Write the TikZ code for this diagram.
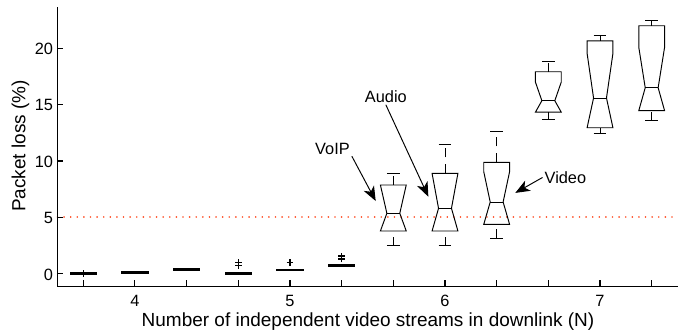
\documentclass[tikz,border=0pt]{standalone}
\usepackage{fontspec}
\setmainfont{Liberation Sans}
\usepackage{tikz}
\usetikzlibrary{arrows.meta}
\definecolor{limitred}{RGB}{255,80,40}
\tikzset{
  boxln/.style={line width=0.55pt},
  flatbox/.style={line width=0.9pt},
  outl/.style={line width=0.75pt},
  whisk/.style={line width=0.55pt,dash pattern=on 0.18cm off 0.14cm},
  ticklbl/.style={font=\fontsize{9.3}{11}\selectfont,inner sep=0pt},
  axlbl/.style={font=\fontsize{10.8}{13}\selectfont,inner sep=0pt},
  annot/.style={font=\fontsize{9.3}{11}\selectfont,inner sep=1pt}
}

\begin{document}
\begin{tikzpicture}[line cap=butt,line join=miter,>={Stealth[length=2.9mm,width=2.3mm,inset=0.8mm]},x=1.0334cm,y=0.2254cm]
\useasboundingbox (-0.612,-5.084) rectangle (12.606,24.285);

% 5% limit
\draw [limitred,line width=1pt,line cap=round,dash pattern=on 0.01pt off 3.75pt] (0.5,5.)-- (12.5,5.);

% axes
\draw [line width=0.6pt] (0.5,23.65)-- (0.5,-1.1)-- (12.5,-1.1);
\draw [line width=0.6pt] (0.5,0.)-- (0.616,0.);
\draw [line width=0.6pt] (0.5,5.)-- (0.616,5.);
\draw [line width=0.6pt] (0.5,10.)-- (0.616,10.);
\draw [line width=0.6pt] (0.5,15.)-- (0.616,15.);
\draw [line width=0.6pt] (0.5,20.)-- (0.616,20.);
\draw [line width=0.6pt] (1.,-1.1)-- (1.,-0.57);
\draw [line width=0.6pt] (2.,-1.1)-- (2.,-0.57);
\draw [line width=0.6pt] (3.,-1.1)-- (3.,-0.57);
\draw [line width=0.6pt] (4.,-1.1)-- (4.,-0.57);
\draw [line width=0.6pt] (5.,-1.1)-- (5.,-0.57);
\draw [line width=0.6pt] (6.,-1.1)-- (6.,-0.57);
\draw [line width=0.6pt] (7.,-1.1)-- (7.,-0.57);
\draw [line width=0.6pt] (8.,-1.1)-- (8.,-0.57);
\draw [line width=0.6pt] (9.,-1.1)-- (9.,-0.57);
\draw [line width=0.6pt] (10.,-1.1)-- (10.,-0.57);
\draw [line width=0.6pt] (11.,-1.1)-- (11.,-0.57);
\draw [line width=0.6pt] (12.,-1.1)-- (12.,-0.57);

\node[ticklbl,anchor=base east] (y0) at (0.42,-0.56) {0};
\node[ticklbl,anchor=base east] (y5) at (0.42,4.44) {5};
\node[ticklbl,anchor=base east] (y10) at (0.42,9.44) {10};
\node[ticklbl,anchor=base east] (y15) at (0.42,14.44) {15};
\node[ticklbl,anchor=base east] (y20) at (0.42,19.44) {20};
\node[ticklbl,anchor=base] (x4) at (2.,-2.87) {4};
\node[ticklbl,anchor=base] (x5) at (5.,-2.87) {5};
\node[ticklbl,anchor=base] (x6) at (8.,-2.87) {6};
\node[ticklbl,anchor=base] (x7) at (11.,-2.87) {7};
\node[axlbl,rotate=90,anchor=base] (ylab) at (-0.119,11.33) {Packet loss (\%)};
\node[axlbl,anchor=base] (xlab) at (6.51,-4.685) {Number of independent video streams in downlink (N)};

% N = 4, 5: flat boxes and outliers
\draw [flatbox] (0.75,-0.05) rectangle (1.25,0.05);
\draw [flatbox] (1.75,0.07) rectangle (2.25,0.17);
\draw [flatbox] (2.75,0.31) rectangle (3.25,0.41);
\draw [flatbox] (3.75,-0.05) rectangle (4.25,0.05);
\draw [flatbox] (4.75,0.27) rectangle (5.25,0.37);
\draw [flatbox] (5.75,0.66) rectangle (6.25,0.76);
\draw [outl] (1.,0.) +(-0.064,0) -- +(0.064,0) +(0,-0.3) -- +(0,0.3);
\draw [outl] (4.,0.75) +(-0.064,0) -- +(0.064,0) +(0,-0.3) -- +(0,0.3);
\draw [outl] (4.,1.01) +(-0.064,0) -- +(0.064,0) +(0,-0.3) -- +(0,0.3);
\draw [outl] (5.,0.98) +(-0.064,0) -- +(0.064,0) +(0,-0.3) -- +(0,0.3);
\draw [outl] (6.,1.30) +(-0.064,0) -- +(0.064,0) +(0,-0.3) -- +(0,0.3);
\draw [outl] (6.,1.57) +(-0.064,0) -- +(0.064,0) +(0,-0.3) -- +(0,0.3);

% N = 6
\draw [boxln] (6.75,7.87)-- (7.25,7.87)-- (7.125,5.36)-- (7.25,3.79)-- (6.75,3.79)-- (6.875,5.36)-- cycle;
\draw [boxln] (6.875,5.36)-- (7.125,5.36);
\draw [whisk] (7.,2.48)-- (7.,3.79);
\draw [whisk] (7.,7.87)-- (7.,8.9);
\draw [boxln] (6.875,2.48)-- (7.125,2.48);
\draw [boxln] (6.875,8.9)-- (7.125,8.9);

\draw [boxln] (7.75,8.9)-- (8.25,8.9)-- (8.125,5.8)-- (8.25,3.79)-- (7.75,3.79)-- (7.875,5.8)-- cycle;
\draw [boxln] (7.875,5.8)-- (8.125,5.8);
\draw [whisk] (8.,2.48)-- (8.,3.79);
\draw [whisk] (8.,8.9)-- (8.,11.48);
\draw [boxln] (7.875,2.48)-- (8.125,2.48);
\draw [boxln] (7.875,11.48)-- (8.125,11.48);

\draw [boxln] (8.75,9.88)-- (9.25,9.88)-- (9.25,9.05)-- (9.125,6.36)-- (9.25,4.38)-- (8.75,4.38)-- (8.875,6.36)-- (8.75,9.05)-- cycle;
\draw [boxln] (8.875,6.36)-- (9.125,6.36);
\draw [whisk] (9.,3.14)-- (9.,4.38);
\draw [whisk] (9.,9.88)-- (9.,12.66);
\draw [boxln] (8.875,3.14)-- (9.125,3.14);
\draw [boxln] (8.875,12.66)-- (9.125,12.66);

% N = 7
\draw [boxln] (9.75,17.92)-- (10.25,17.92)-- (10.25,17.0)-- (10.125,15.35)-- (10.25,14.33)-- (9.75,14.33)-- (9.875,15.35)-- (9.75,17.0)-- cycle;
\draw [boxln] (9.875,15.35)-- (10.125,15.35);
\draw [whisk] (10.,13.67)-- (10.,14.33);
\draw [whisk] (10.,17.92)-- (10.,18.87);
\draw [boxln] (9.875,13.67)-- (10.125,13.67);
\draw [boxln] (9.875,18.87)-- (10.125,18.87);

\draw [boxln] (10.75,20.65)-- (11.25,20.65)-- (11.25,19.55)-- (11.125,15.59)-- (11.25,12.95)-- (10.75,12.95)-- (10.875,15.59)-- (10.75,19.55)-- cycle;
\draw [boxln] (10.875,15.59)-- (11.125,15.59);
\draw [whisk] (11.,12.46)-- (11.,12.95);
\draw [whisk] (11.,20.65)-- (11.,21.1);
\draw [boxln] (10.875,12.46)-- (11.125,12.46);
\draw [boxln] (10.875,21.1)-- (11.125,21.1);

\draw [boxln] (11.75,22.)-- (12.25,22.)-- (12.25,20.1)-- (12.125,16.5)-- (12.25,14.46)-- (11.75,14.46)-- (11.875,16.5)-- (11.75,20.1)-- cycle;
\draw [boxln] (11.875,16.5)-- (12.125,16.5);
\draw [whisk] (12.,13.57)-- (12.,14.46);
\draw [whisk] (12.,22.)-- (12.,22.5);
\draw [boxln] (11.875,13.57)-- (12.125,13.57);
\draw [boxln] (11.875,22.5)-- (12.125,22.5);

% labels
\node[annot,anchor=base] (voip) at (5.823,10.62) {VoIP};
\node[annot,anchor=base] (audio) at (6.855,15.19) {Audio};
\node[annot,anchor=base] (video) at (10.33,8.02) {Video};
\coordinate (voiptip) at (6.659,6.45);
\coordinate (audiotip) at (7.678,6.83);
\coordinate (videotip) at (9.36,7.17);
\draw [->,line width=0.55pt] (voip.south east)-- (voiptip);
\draw [->,line width=0.55pt] (audio.south)-- (audiotip);
\draw [->,line width=0.55pt] (video.west)-- (videotip);
\end{tikzpicture}
\end{document}
